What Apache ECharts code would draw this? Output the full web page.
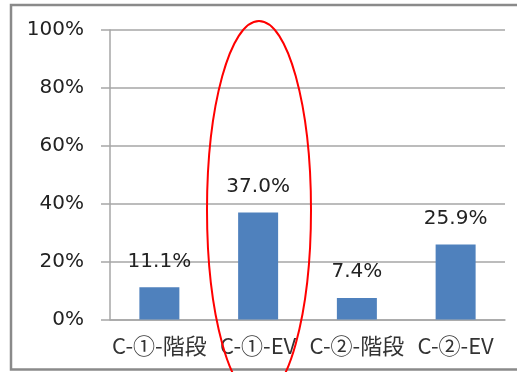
<!DOCTYPE html>
<html lang="ja">
<head>
<meta charset="UTF-8">
<title>C-EV</title>
<script src="https://cdn.jsdelivr.net/npm/echarts@6/dist/echarts.min.js"></script>
<style>
  html, body { margin: 0; padding: 0; background: #fff; }
  #main { width: 517px; height: 372px; }
</style>
</head>
<body>
<div id="main"></div>
<script>
// 区分とその割合(%)
const categories = ['C-①-階段', 'C-①-EV', 'C-②-階段', 'C-②-EV']
const ratios = [11.1, 37.0, 7.4, 25.9]
const yTicks = [0, 20, 40, 60, 80, 100]

const cjkFont = '"Noto Sans CJK JP", sans-serif'
const numFont = '"DejaVu Sans", sans-serif'
const gray = '#a6a6a6'

const chart = echarts.init(document.getElementById('main'))
chart.setOption({
    animation: false,
    backgroundColor: '#fff',
    grid: { left: 110, right: 12, top: 30, bottom: 52.5 },
    xAxis: {
        type: 'category',
        data: categories,
        axisLine: { lineStyle: { color: gray, width: 1.5 } },
        axisTick: { length: 6, lineStyle: { color: gray, width: 1.5 } },
        axisLabel: { color: '#333', fontFamily: cjkFont, fontSize: 22, margin: 15, interval: 0 }
    },
    yAxis: {
        type: 'value',
        min: yTicks[0],
        max: yTicks[yTicks.length - 1],
        interval: 20,
        axisLine: { show: true, lineStyle: { color: gray, width: 1.5 } },
        axisTick: { show: true, length: 9, lineStyle: { color: gray, width: 1.5 } },
        splitLine: { lineStyle: { color: gray, width: 1.5 } },
        axisLabel: { color: '#222', fontFamily: numFont, fontSize: 20, margin: 26, formatter: '{value}%' }
    },
    series: [{
        type: 'bar',
        data: ratios,
        barWidth: '40.5%',
        itemStyle: { color: '#4f81bd' },
        label: {
            show: true,
            position: 'top',
            distance: 16,
            color: '#222',
            fontFamily: numFont,
            fontSize: 20,
            formatter: function (p) { return p.value.toFixed(1) + '%' }
        }
    }],
    graphic: [
        {
            type: 'rect',
            shape: { x: 11, y: 5, width: 520, height: 364.5 },
            style: { fill: 'none', stroke: '#8a8a8a', lineWidth: 2.5 },
            z: 1
        },
        {
            type: 'ellipse',
            shape: { cx: 259, cy: 210, rx: 52, ry: 189 },
            style: { fill: 'none', stroke: '#ff0000', lineWidth: 2 },
            z: 100
        }
    ]
})
</script>
</body>
</html>
